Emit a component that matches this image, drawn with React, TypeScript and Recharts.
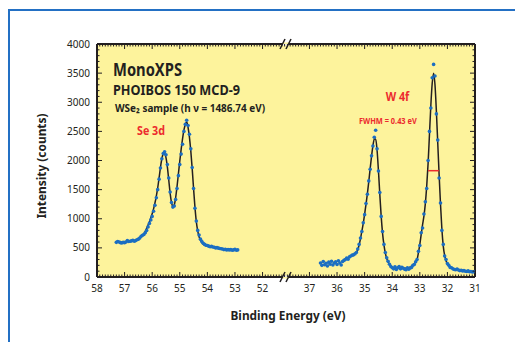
import React from 'react';
import {
  ComposedChart,
  XAxis,
  YAxis,
  Line,
  Scatter,
  CartesianGrid,
  ReferenceLine,
  ReferenceDot,
} from 'recharts';

const INK = '#231f20';
const DOT = '#1b6ec2';
const RED = '#ec2b2e';
const PAPER = '#fdf39c';
const FRAME = '#2370c4';
const FONT = '"Noto Sans", "Open Sans", sans-serif';

// Se 3d region, binding energy (eV)
const seEnergy = [
  57.3, 57.25, 57.2, 57.15, 57.1, 57.05, 57, 56.95, 56.9, 56.85,
  56.8, 56.75, 56.7, 56.65, 56.6, 56.55, 56.5, 56.45, 56.4, 56.35,
  56.3, 56.25, 56.2, 56.15, 56.1, 56.05, 56, 55.95, 55.9, 55.85,
  55.8, 55.75, 55.7, 55.65, 55.6, 55.55, 55.5, 55.45, 55.4, 55.35,
  55.3, 55.25, 55.2, 55.15, 55.1, 55.05, 55, 54.95, 54.9, 54.85,
  54.8, 54.75, 54.7, 54.65, 54.6, 54.55, 54.5, 54.45, 54.4, 54.35,
  54.3, 54.25, 54.2, 54.15, 54.1, 54.05, 54, 53.95, 53.9, 53.85,
  53.8, 53.75, 53.7, 53.65, 53.6, 53.55, 53.5, 53.45, 53.4, 53.35,
  53.3, 53.25, 53.2, 53.15, 53.1, 53.05, 53, 52.95, 52.9,
];
const seCounts = [
  595, 610, 600, 590, 585, 595, 590, 600, 625, 610,
  615, 620, 630, 615, 625, 640, 650, 670, 700, 715,
  730, 760, 800, 860, 920, 980, 1040, 1130, 1230, 1360,
  1500, 1680, 1870, 2030, 2120, 2150, 2100, 1930, 1700, 1460,
  1280, 1200, 1220, 1330, 1520, 1740, 1930, 2110, 2280, 2500,
  2620, 2690, 2600, 2450, 2200, 1880, 1520, 1180, 960, 800,
  720, 650, 610, 580, 560, 545, 540, 530, 520, 525,
  515, 510, 500, 505, 495, 490, 485, 480, 470, 475,
  465, 470, 465, 470, 460, 465, 475, 460, 465,
];
const seFit = [
  null, null, null, null, null, null, null, null, null, null,
  null, null, null, null, null, null, 650, 668, 690, 715,
  745, 785, 835, 890, 950, 1015, 1085, 1170, 1270, 1390,
  1530, 1700, 1880, 2030, 2110, 2120, 2050, 1890, 1670, 1440,
  1280, 1210, 1240, 1360, 1550, 1770, 1990, 2190, 2370, 2520,
  2620, 2660, 2570, 2400, 2160, 1860, 1520, 1200, 950, 790,
  690, 630, 590, 565, 548, 538, 530, null, null, null,
  null, null, null, null, null, null, null, null, null, null,
  null, null, null, null, null, null, null, null, null,
];

// W 4f region, binding energy (eV)
const wEnergy = [
  36.6, 36.55, 36.5, 36.45, 36.4, 36.35, 36.3, 36.25, 36.2, 36.15,
  36.1, 36.05, 36, 35.95, 35.9, 35.85, 35.8, 35.75, 35.7, 35.65,
  35.6, 35.55, 35.5, 35.45, 35.4, 35.35, 35.3, 35.25, 35.2, 35.15,
  35.1, 35.05, 35, 34.95, 34.9, 34.85, 34.8, 34.75, 34.7, 34.65,
  34.6, 34.55, 34.5, 34.45, 34.4, 34.35, 34.3, 34.25, 34.2, 34.15,
  34.1, 34.05, 34, 33.95, 33.9, 33.85, 33.8, 33.75, 33.7, 33.65,
  33.6, 33.55, 33.5, 33.45, 33.4, 33.35, 33.3, 33.25, 33.2, 33.15,
  33.1, 33.05, 33, 32.95, 32.9, 32.85, 32.8, 32.75, 32.7, 32.65,
  32.6, 32.55, 32.5, 32.45, 32.4, 32.35, 32.3, 32.25, 32.2, 32.15,
  32.1, 32.05, 32, 31.95, 31.9, 31.85, 31.8, 31.75, 31.7, 31.65,
  31.6, 31.55, 31.5, 31.45, 31.4, 31.35, 31.3, 31.25, 31.2, 31.15,
  31.1, 31.05, 31,
];
const wCounts = [
  240, 200, 265, 210, 235, 190, 255, 220, 270, 205,
  240, 260, 215, 280, 240, 205, 265, 285, 300, 325,
  305, 345, 360, 375, 380, 400, 420, 480, 560, 670,
  780, 930, 1070, 1260, 1420, 1650, 1850, 2080, 2250, 2400,
  2520, 2200, 1820, 1450, 1040, 780, 560, 420, 330, 270,
  220, 180, 160, 140, 175, 130, 160, 180, 140, 165,
  150, 135, 125, 160, 135, 155, 165, 200, 215, 260,
  300, 440, 540, 760, 840, 1080, 1290, 1520, 2000, 2500,
  2900, 3420, 3650, 3450, 2800, 2350, 1700, 1270, 800, 560,
  360, 300, 230, 200, 165, 160, 140, 130, 125, 135,
  120, 110, 115, 105, 110, 100, 95, 105, 90, 95,
  85, 90, 95,
];
const wFit = [
  null, null, null, null, null, null, null, null, null, null,
  null, null, null, null, null, null, null, null, null, null,
  null, null, null, null, 380, 395, 420, 470, 550, 660,
  790, 920, 1080, 1250, 1430, 1640, 1860, 2070, 2250, 2370,
  2370, 2180, 1830, 1420, 1040, 750, 550, 410, 320, 260,
  215, 185, 165, 155, 150, 148, 148, 150, 150, 150,
  150, 150, 152, 155, 160, 170, 185, 205, 230, 260,
  300, 420, 560, 730, 900, 1050, 1260, 1560, 1950, 2450,
  2950, 3330, 3500, 3300, 2850, 2300, 1750, 1250, 820, 530,
  370, 280, 225, 190, 170, 155, 145, null, null, null,
  null, null, null, null, null, null, null, null, null, null,
  null, null, null,
];

// FWHM marker on the W 4f7/2 peak
const fwhmFrom = 32.7;
const fwhmTo = 32.31;
const fwhmLevel = 1825;

const xLabelsLeft = [58, 57, 56, 55, 54, 53, 52];
const xLabelsRight = [37, 36, 35, 34, 33, 32, 31];
const yLabels = [0, 500, 1000, 1500, 2000, 2500, 3000, 3500, 4000];

// broken energy axis: 58 -> 51.15 eV, then 37.85 -> 31 eV
const BREAK_LEFT = 51.15;
const BREAK_RIGHT = 37.85;
const GAP = 58 - BREAK_LEFT;
const toU = (be: number) => (be > 45 ? 58 - be : GAP + BREAK_RIGHT - be);
const toBE = (u: number) => (u <= GAP + 0.001 ? 58 - u : GAP + BREAK_RIGHT - u);

const rows = (energy: number[], values: (number | null)[]) =>
  energy
    .map((e, i) => ({ u: toU(e), c: values[i] }))
    .filter((r) => r.c !== null);

const seRows = rows(seEnergy, seCounts);
const seFitRows = rows(seEnergy, seFit);
const wRows = rows(wEnergy, wCounts);
const wFitRows = rows(wEnergy, wFit);

// minor ticks every 0.1 eV / 100 counts
const xTicks: number[] = [];
for (let i = 0; i <= 68; i++) xTicks.push(+(i * 0.1).toFixed(2));
for (let i = 0; i <= 68; i++) xTicks.push(+toU(37.8 - i * 0.1).toFixed(2));
const yTicks: number[] = [];
for (let v = 0; v <= 4000; v += 100) yTicks.push(v);

const xMajor = (u: number) => {
  const be = toBE(u);
  return Math.abs(be - Math.round(be)) < 0.01 &&
    (xLabelsLeft.includes(Math.round(be)) || xLabelsRight.includes(Math.round(be)));
};
const yMajor = (v: number) => yLabels.includes(v);

const BottomTick = (p: any) => {
  const major = xMajor(p.payload.value);
  return (
    <g>
      <line x1={p.x} x2={p.x} y1={p.y} y2={p.y - (major ? 5 : 2.5)} stroke={INK} strokeWidth={1} />
      {major && (
        <text x={p.x} y={p.y + 14.5} textAnchor="middle" fontSize={10} fontFamily={FONT} fill={INK}>
          {Math.round(toBE(p.payload.value))}
        </text>
      )}
    </g>
  );
};

const TopTick = (p: any) => {
  const major = xMajor(p.payload.value);
  return <line x1={p.x} x2={p.x} y1={p.y} y2={p.y + (major ? 5 : 2.5)} stroke={INK} strokeWidth={1} />;
};

const LeftTick = (p: any) => {
  const major = yMajor(p.payload.value);
  return (
    <g>
      <line x1={p.x} x2={p.x + (major ? 5 : 2.5)} y1={p.y} y2={p.y} stroke={INK} strokeWidth={1} />
      {major && (
        <text x={p.x - 7} y={p.y + 3.5} textAnchor="end" fontSize={10} fontFamily={FONT} fill={INK}>
          {p.payload.value}
        </text>
      )}
    </g>
  );
};

const RightTick = (p: any) => {
  const major = yMajor(p.payload.value);
  return <line x1={p.x} x2={p.x - (major ? 5 : 2.5)} y1={p.y} y2={p.y} stroke={INK} strokeWidth={1} />;
};

const BreakMark = ({ cx, cy, inner }: { cx: number; cy: number; inner: number }) => (
  <g>
    <rect x={cx - 3} y={inner > 0 ? cy : cy - 1.5} width={6} height={1.5} fill="#ffffff" />
    <rect x={cx - 3} y={inner > 0 ? cy - 1.5 : cy} width={6} height={1.5} fill={PAPER} />
    <line x1={cx - 6} y1={cy + 5} x2={cx - 1} y2={cy - 5} stroke={INK} strokeWidth={1.5} />
    <line x1={cx} y1={cy + 5} x2={cx + 5} y2={cy - 5} stroke={INK} strokeWidth={1.5} />
  </g>
);

const dot = (p: any) => <circle cx={p.cx} cy={p.cy} r={1.8} fill={DOT} />;

const Annotations = () => (
  <svg
    width={515}
    height={342}
    style={{ position: 'absolute', left: 0, top: 0, pointerEvents: 'none' }}
  >
    <g fontFamily={FONT} fontWeight={700}>
      <text x={113} y={76} fontSize={17.5} fill={INK} textLength={69} lengthAdjust="spacingAndGlyphs">
        MonoXPS
      </text>
      <text x={113} y={95} fontSize={14} fill={INK} textLength={127} lengthAdjust="spacingAndGlyphs">
        PHOIBOS 150 MCD-9
      </text>
      <text x={115} y={111.5} fontSize={10.8} fill={INK} textLength={150} lengthAdjust="spacingAndGlyphs">
        WSe₂ sample (h ν = 1486.74 eV)
      </text>
      <text x={137} y={135} fontSize={11.7} fill={RED} textLength={28} lengthAdjust="spacingAndGlyphs">
        Se 3d
      </text>
      <text x={385.7} y={101} fontSize={13} fill={RED} textLength={23.5} lengthAdjust="spacingAndGlyphs">
        W 4f
      </text>
      <text x={359} y={124.3} fontSize={8.2} fill={RED} textLength={57.7} lengthAdjust="spacingAndGlyphs">
        FWHM = 0.43 eV
      </text>
      <text
        transform="translate(45.5,166) rotate(-90)"
        textAnchor="middle"
        fontSize={13}
        fill={INK}
        textLength={105}
        lengthAdjust="spacingAndGlyphs"
      >
        Intensity (counts)
      </text>
      <text x={288} y={320} textAnchor="middle" fontSize={13} fill={INK} textLength={115} lengthAdjust="spacingAndGlyphs">
        Binding Energy (eV)
      </text>
    </g>
  </svg>
);

export default function App() {
  const axisLine = { stroke: INK, strokeWidth: 2 };
  return (
    <div
      style={{
        position: 'absolute',
        left: 0,
        top: 0,
        width: 515,
        height: 342,
        overflow: 'hidden',
        background: '#ffffff',
      }}
    >
      <div
        style={{
          position: 'absolute',
          left: 8,
          top: 9,
          width: 600,
          height: 400,
          borderLeft: `2px solid ${FRAME}`,
          borderTop: `2px solid ${FRAME}`,
        }}
      />
      <div style={{ position: 'absolute', left: 0, top: 0 }}>
        <ComposedChart width={515} height={342} margin={{ top: 43, right: 39, bottom: 45, left: 57 }}>
          <CartesianGrid xAxisId="bottom" yAxisId="left" fill={PAPER} horizontal={false} vertical={false} />
          <XAxis
            xAxisId="bottom"
            dataKey="u"
            type="number"
            domain={[0, toU(31)]}
            ticks={xTicks}
            interval={0}
            height={20}
            tickSize={0}
            tickMargin={0}
            tickLine={false}
            axisLine={axisLine}
            tick={BottomTick}
            allowDataOverflow
          />
          <XAxis
            xAxisId="top"
            orientation="top"
            dataKey="u"
            type="number"
            domain={[0, toU(31)]}
            ticks={xTicks}
            interval={0}
            height={1}
            tickSize={0}
            tickMargin={0}
            tickLine={false}
            axisLine={axisLine}
            tick={TopTick}
            allowDataOverflow
          />
          <YAxis
            yAxisId="left"
            dataKey="c"
            type="number"
            domain={[0, 4000]}
            ticks={yTicks}
            interval={0}
            width={40}
            tickSize={0}
            tickMargin={0}
            tickLine={false}
            axisLine={axisLine}
            tick={LeftTick}
            allowDataOverflow
          />
          <YAxis
            yAxisId="right"
            orientation="right"
            type="number"
            domain={[0, 4000]}
            ticks={yTicks}
            interval={0}
            width={1}
            tickSize={0}
            tickMargin={0}
            tickLine={false}
            axisLine={axisLine}
            tick={RightTick}
            allowDataOverflow
          />
          <Line
            data={seFitRows}
            dataKey="c"
            xAxisId="bottom"
            yAxisId="left"
            type="monotone"
            stroke={INK}
            strokeWidth={1.5}
            dot={false}
            activeDot={false}
            isAnimationActive={false}
          />
          <Line
            data={wFitRows}
            dataKey="c"
            xAxisId="bottom"
            yAxisId="left"
            type="monotone"
            stroke={INK}
            strokeWidth={1.5}
            dot={false}
            activeDot={false}
            isAnimationActive={false}
          />
          <Scatter data={seRows} dataKey="c" xAxisId="bottom" yAxisId="left" shape={dot} isAnimationActive={false} />
          <Scatter data={wRows} dataKey="c" xAxisId="bottom" yAxisId="left" shape={dot} isAnimationActive={false} />
          <ReferenceLine
            xAxisId="bottom"
            yAxisId="left"
            segment={[
              { x: toU(fwhmFrom), y: fwhmLevel },
              { x: toU(fwhmTo), y: fwhmLevel },
            ]}
            stroke={RED}
            strokeWidth={1.5}
          />
          <ReferenceDot
            xAxisId="bottom"
            yAxisId="left"
            x={GAP}
            y={0}
            ifOverflow="visible"
            shape={(p: any) => <BreakMark cx={p.cx} cy={p.cy} inner={-1} />}
          />
          <ReferenceDot
            xAxisId="bottom"
            yAxisId="left"
            x={GAP}
            y={4000}
            ifOverflow="visible"
            shape={(p: any) => <BreakMark cx={p.cx} cy={p.cy} inner={1} />}
          />
        </ComposedChart>
      </div>
      <Annotations />
    </div>
  );
}
